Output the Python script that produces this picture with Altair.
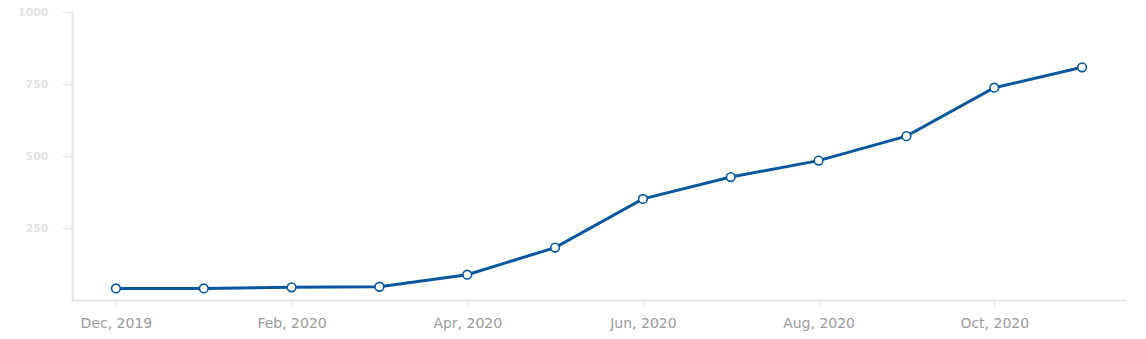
import altair as alt
import pandas as pd

months = ["Dec, 2019", "Jan, 2020", "Feb, 2020", "Mar, 2020", "Apr, 2020", "May, 2020",
          "Jun, 2020", "Jul, 2020", "Aug, 2020", "Sep, 2020", "Oct, 2020", "Nov, 2020"]
values = [40, 40, 44, 46, 88, 182, 351, 427, 484, 569, 737, 808]
x_tick_labels = ["Dec, 2019", "Feb, 2020", "Apr, 2020", "Jun, 2020", "Aug, 2020", "Oct, 2020"]
y_ticks = [250, 500, 750, 1000]

df = pd.DataFrame({"month": months, "value": values})

x = alt.X("month:O", sort=months, scale=alt.Scale(type="point", padding=0.5),
          axis=alt.Axis(title=None, values=x_tick_labels, labelAngle=0,
                        labelColor="#9a9a9a", labelFont="DejaVu Sans", labelFontSize=14,
                        labelPadding=9, tickSize=7, tickColor="#e3e3e3",
                        domainColor="#e6e6e6", domainWidth=2, grid=False))
y = alt.Y("value:Q", scale=alt.Scale(domain=[0, 1000], nice=False),
          axis=alt.Axis(title=None, values=y_ticks, format="d", labelColor="#e2e2e2",
                        labelFont="DejaVu Sans", labelFontSize=11, labelFontWeight="bold",
                        labelPadding=14, tickSize=10, tickColor="#e6e6e6",
                        domainColor="#e6e6e6", domainWidth=2, grid=False))

base = alt.Chart(df)
line = base.mark_line(color="#0b579f", strokeWidth=3).encode(x=x, y=y)
pts = base.mark_point(filled=True, fill="white", stroke="#0b579f", strokeWidth=1.6,
                      size=75, opacity=1).encode(x=x, y=y)

chart = alt.layer(line, pts).properties(
    width=1054, height=288,
    background="white",
    autosize=alt.AutoSizeParams(type="none"),
    padding={"left": 72, "top": 12, "right": 20, "bottom": 39},
).configure_view(stroke=None, strokeWidth=0)

chart.save("out.html", embed_options={"renderer": "svg", "actions": False})
